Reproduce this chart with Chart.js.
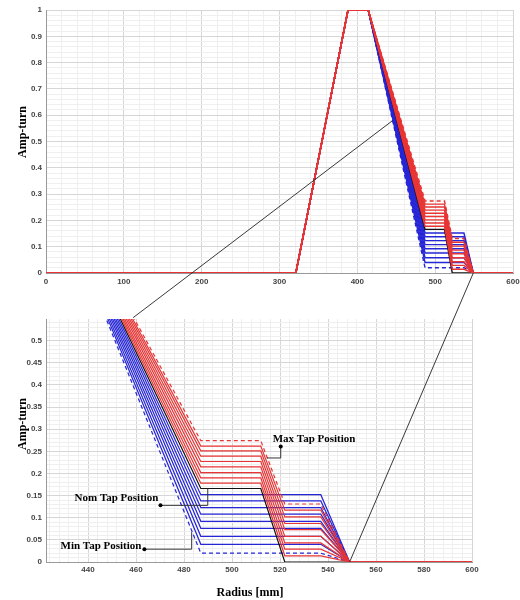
<!DOCTYPE html>
<html>
<head>
<meta charset="utf-8">
<script src="https://cdn.jsdelivr.net/npm/chart.js@4.4.1/dist/chart.umd.min.js"></script>
<style>
  html, body { margin: 0; padding: 0; background: #fff; }
  #wrap { position: relative; width: 520px; height: 600px; }
  #wrap canvas { position: absolute; left: 0; }
</style>
</head>
<body>
<div id="wrap">
  <canvas id="fullChart" width="520" height="292" style="top:0"></canvas>
  <canvas id="zoomChart" width="520" height="300" style="top:300px"></canvas>
  <canvas id="links" width="520" height="600" style="top:0;pointer-events:none"></canvas>
</div>
<script>
// radius break points [mm]
const rampStart = 321, rampTop = 388, mainStart = 414, mainEnd = 487;
const tapStart = 512, tapEnd = 522, outerStart = 537, outerEnd = 549, radiusEnd = 600;

// amp-turn level between main and tap winding, nominal tap
const nomLevel = 0.166;
// raise taps (red), last one = max tap position (dashed)
const raiseGapLevels = [0.178, 0.190, 0.202, 0.215, 0.227, 0.239, 0.251, 0.262, 0.274];
const raiseOuterLevels = [0.014, 0.029, 0.043, 0.058, 0.073, 0.087, 0.102, 0.117, 0.131];
// lower taps (blue), last one = min tap position (dashed)
const lowerLevels = [0.152, 0.138, 0.123, 0.108, 0.092, 0.076, 0.058, 0.040, 0.020];

// zoom connector lines: [radius, amp-turn] on full chart -> on zoom chart
const zoomLinks = [
  { from: [445.5, 0.58], to: [458.8, 0.552] },
  { from: [549, 0], to: [549, 0] }
];

const tapNotes = [
  { text: 'Max Tap Position', dot: [520.3, 0.261], path: [[520.3, 0.235], [514.5, 0.235]], align: 'left', dx: -8, dy: -4 },
  { text: 'Nom Tap Position', dot: [470.2, 0.128], path: [[489.9, 0.128], [489.9, 0.166]], align: 'right', dx: -2, dy: -4 },
  { text: 'Min Tap Position', dot: [463.5, 0.029], path: [[483.2, 0.029], [483.2, 0.0675]], align: 'right', dx: -3, dy: 0 }
];

const red = 'rgb(232,52,52)';
const blue = 'rgb(38,38,215)';
const black = '#111';
const majorGrid = '#d6d6d6';
const minorGrid = '#efefef';
const tickFont = { family: 'Liberation Sans', size: 8, weight: 'bold' };
const serifBold = 'bold 12px "Liberation Serif"';

function profile(tail) {
  return [[0, 0], [rampStart, 0], [rampTop, 1], [mainStart, 1], ...tail].map(([x, y]) => ({ x, y }));
}

function buildDatasets(width) {
  const sets = [];
  raiseGapLevels.forEach((a, i) => {
    const c = raiseOuterLevels[i];
    sets.push({
      data: profile([[mainEnd, a], [tapStart, a], [tapEnd, c], [outerStart, c], [outerEnd, 0], [radiusEnd, 0]]),
      borderColor: red, borderDash: i === raiseGapLevels.length - 1 ? [4, 3] : [], order: 0
    });
  });
  sets.push({
    data: profile([[mainEnd, nomLevel], [tapStart, nomLevel], [tapEnd, 0], [radiusEnd, 0]]),
    borderColor: black, borderDash: [], order: 1
  });
  lowerLevels.forEach((b, i) => {
    sets.push({
      data: profile([[mainEnd, b], [outerStart, b], [outerEnd, 0], [radiusEnd, 0]]),
      borderColor: blue, borderDash: i === lowerLevels.length - 1 ? [4, 3] : [], order: 2
    });
  });
  return sets.map(s => Object.assign(s, { borderWidth: width, pointRadius: 0, fill: false, tension: 0 }));
}

const isMajor = (v, step) => Math.abs(v / step - Math.round(v / step)) < 1e-6;

function gridTicks(first, max, step) {
  const t = [];
  for (let i = 0; first + i * step <= max + 1e-9; i++) t.push({ value: +(first + i * step).toFixed(4) });
  return t;
}

function scales(c) {
  return {
    x: {
      type: 'linear', min: c.xMin, max: c.xMax,
      afterBuildTicks: ax => { ax.ticks = gridTicks(c.xFirst, c.xMax, c.xMinor); },
      afterFit: ax => { ax.height = c.xHeight; ax.paddingLeft = 0; ax.paddingRight = 0; },
      ticks: {
        autoSkip: false, maxRotation: 0, padding: c.xPad, font: tickFont, color: '#444',
        callback: v => isMajor(v, c.xMajor) ? String(+v.toFixed(3)) : ''
      },
      grid: { drawTicks: false, color: ctx => ctx.tick && isMajor(ctx.tick.value, c.xMajor) ? majorGrid : minorGrid },
      border: { color: '#999' }
    },
    y: {
      type: 'linear', min: 0, max: c.yMax,
      afterBuildTicks: ax => { ax.ticks = gridTicks(0, c.yMax, c.yMinor); },
      afterFit: ax => { ax.width = 46; ax.paddingTop = 0; ax.paddingBottom = 0; },
      ticks: {
        autoSkip: false, padding: 4, font: tickFont, color: '#444',
        callback: v => isMajor(v, c.yMajor) ? String(+v.toFixed(3)) : ''
      },
      grid: { drawTicks: false, color: ctx => ctx.tick && isMajor(ctx.tick.value, c.yMajor) ? majorGrid : minorGrid },
      border: { color: '#999' }
    }
  };
}

function titles(yTitleY, xTitle) {
  return {
    id: 'axisTitles',
    afterDraw(chart) {
      const ctx = chart.ctx;
      ctx.save();
      ctx.font = serifBold;
      ctx.fillStyle = '#000';
      ctx.textAlign = 'center';
      ctx.textBaseline = 'middle';
      ctx.translate(23, yTitleY);
      ctx.rotate(-Math.PI / 2);
      ctx.fillText('Amp-turn', 0, 0);
      ctx.restore();
      if (xTitle) {
        ctx.save();
        ctx.font = serifBold;
        ctx.fillStyle = '#000';
        ctx.textAlign = 'center';
        ctx.textBaseline = 'middle';
        ctx.fillText(xTitle.text, xTitle.x, xTitle.y);
        ctx.restore();
      }
    }
  };
}

const notesPlugin = {
  id: 'tapNotes',
  afterDatasetsDraw(chart) {
    const { ctx, scales: { x, y } } = chart;
    ctx.save();
    tapNotes.forEach(n => {
      const px = x.getPixelForValue(n.dot[0]), py = y.getPixelForValue(n.dot[1]);
      ctx.strokeStyle = '#333';
      ctx.lineWidth = 1;
      ctx.beginPath();
      ctx.moveTo(px, py);
      n.path.forEach(p => ctx.lineTo(x.getPixelForValue(p[0]), y.getPixelForValue(p[1])));
      ctx.stroke();
      ctx.fillStyle = '#000';
      ctx.beginPath();
      ctx.arc(px, py, 2, 0, Math.PI * 2);
      ctx.fill();
      ctx.font = 'bold 11px "Liberation Serif"';
      ctx.textAlign = n.align;
      ctx.textBaseline = 'alphabetic';
      ctx.fillText(n.text, px + n.dx, py + n.dy);
    });
    ctx.restore();
  }
};

const common = { responsive: false, animation: false, plugins: { legend: { display: false }, tooltip: { enabled: false } } };

const fullChart = new Chart(document.getElementById('fullChart'), {
  type: 'line',
  data: { datasets: buildDatasets(1.4) },
  options: Object.assign({}, common, {
    layout: { padding: { top: 10, right: 7, left: 0, bottom: 0 } },
    scales: scales({ xMin: 0, xMax: 600, xFirst: 0, xMinor: 20, xMajor: 100, xHeight: 19, xPad: 4, yMax: 1, yMinor: 0.02, yMajor: 0.1 })
  }),
  plugins: [titles(132)]
});

const zoomChart = new Chart(document.getElementById('zoomChart'), {
  type: 'line',
  data: { datasets: buildDatasets(1.2) },
  options: Object.assign({}, common, {
    layout: { padding: { top: 19, right: 48, left: 0, bottom: 0 } },
    scales: scales({ xMin: 422.5, xMax: 600, xFirst: 424, xMinor: 4, xMajor: 20, xHeight: 38, xPad: 3, yMax: 0.549, yMinor: 0.01, yMajor: 0.05 })
  }),
  plugins: [titles(124, { text: 'Radius [mm]', x: 250, y: 293 }), notesPlugin]
});

// connector lines between the full view and the zoomed view
const lctx = document.getElementById('links').getContext('2d');
lctx.strokeStyle = '#222';
lctx.lineWidth = 0.9;
zoomLinks.forEach(l => {
  lctx.beginPath();
  lctx.moveTo(fullChart.scales.x.getPixelForValue(l.from[0]), fullChart.scales.y.getPixelForValue(l.from[1]));
  lctx.lineTo(zoomChart.scales.x.getPixelForValue(l.to[0]), 300 + zoomChart.scales.y.getPixelForValue(l.to[1]));
  lctx.stroke();
});
</script>
</body>
</html>
